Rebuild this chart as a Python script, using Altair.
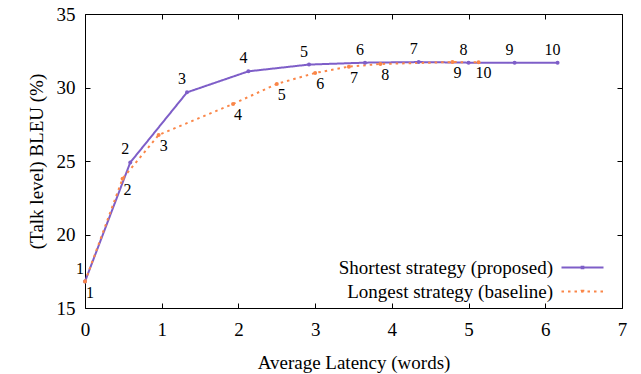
import altair as alt
import pandas as pd

# ---- data ----
S_NAME = "Shortest strategy (proposed)"
L_NAME = "Longest strategy (baseline)"
labels = [1, 2, 3, 4, 5, 6, 7, 8, 9, 10]
shortest_x = [0.0, 0.59, 1.33, 2.13, 2.92, 3.65, 4.35, 5.00, 5.60, 6.16]
shortest_y = [16.8, 24.9, 29.67, 31.1, 31.56, 31.69, 31.73, 31.69, 31.68, 31.68]
longest_x = [0.0, 0.49, 0.96, 1.93, 2.50, 3.00, 3.44, 3.85, 4.79, 5.13]
longest_y = [16.8, 23.8, 26.77, 28.88, 30.24, 30.99, 31.42, 31.60, 31.73, 31.71]
x_ticks = [0, 1, 2, 3, 4, 5, 6, 7]
y_ticks = [15, 20, 25, 30, 35]

rows = []
for n, xv, yv in zip(labels, shortest_x, shortest_y):
    rows.append({"series": S_NAME, "x": xv, "y": yv, "n": str(n), "order": 0})
for n, xv, yv in zip(labels, longest_x, longest_y):
    rows.append({"series": L_NAME, "x": xv, "y": yv, "n": str(n), "order": 1})
df = pd.DataFrame(rows)

FONT = "Liberation Serif"
FS = 19
PURPLE = "#7e5ec8"
ORANGE = "#fa8648"
W, H = 537, 294

xscale = alt.Scale(domain=[0, 7], nice=False, zero=False)
yscale = alt.Scale(domain=[15, 35], nice=False, zero=False)
domain = [S_NAME, L_NAME]

legend = alt.Legend(
    title=None, orient="none", legendX=488, legendY=244,
    symbolType="M-3,0H3M-0.12,-0.12H0.12V0.12H-0.12Z", symbolSize=196, symbolStrokeWidth=2,
    labelFont=FONT, labelFontSize=FS, labelColor="black",
    labelAlign="right", labelOffset={"expr": "-39"}, labelLimit=0, rowPadding=4,
)

xenc = alt.X("x:Q", scale=xscale, axis=alt.Axis(
    values=x_ticks, format="d", title="Average Latency (words)", grid=True,
    gridDash=[5, H - 10, 5], gridColor="black", gridOpacity=1, gridWidth=1,
    ticks=False, domain=False, labelPadding=12, labelFlush=False,
    titlePadding=14))
yenc = alt.Y("y:Q", scale=yscale, axis=alt.Axis(
    values=y_ticks, format="d", title="(Talk level) BLEU (%)", grid=True,
    gridDash=[5, W - 10, 5], gridColor="black", gridOpacity=1, gridWidth=1,
    ticks=False, domain=False, labelPadding=10, labelFlush=False,
    titlePadding=10))

color = alt.Color("series:N", scale=alt.Scale(domain=domain, range=[PURPLE, ORANGE]),
                  sort=domain, legend=legend)
dash = alt.StrokeDash("series:N", scale=alt.Scale(domain=domain, range=[[1, 0], [2.5, 4]]),
                      sort=domain, legend=legend)

lines = alt.Chart(df).mark_line(strokeWidth=2).encode(
    x=xenc, y=yenc, color=color, strokeDash=dash, order="order:Q")

points = alt.Chart(df).mark_point(filled=True, size=16, opacity=1).encode(
    x="x:Q", y="y:Q",
    color=alt.Color("series:N", scale=alt.Scale(domain=domain, range=[PURPLE, ORANGE]),
                    legend=None))

text_s = alt.Chart(df).transform_filter(alt.datum.series == S_NAME).mark_text(
    dx=-5, dy=-13, font=FONT, fontSize=16, color="black", baseline="middle", align="center"
).encode(x="x:Q", y="y:Q", text="n:N")

text_l = alt.Chart(df).transform_filter(alt.datum.series == L_NAME).mark_text(
    dx=5, dy=11, font=FONT, fontSize=16, color="black", baseline="middle", align="center"
).encode(x="x:Q", y="y:Q", text="n:N")

chart = alt.layer(lines, points, text_s, text_l).properties(
    width=W, height=H,
    background="white",
    autosize=alt.AutoSizeParams(type="none"),
    padding={"left": 85, "top": 14, "right": 19, "bottom": 66},
).configure_view(stroke="black", strokeWidth=1).configure_axis(
    labelFont=FONT, labelFontSize=FS, labelColor="black",
    titleFont=FONT, titleFontSize=FS, titleFontWeight="normal", titleColor="black",
)

chart.save("out.html", embed_options={"renderer": "svg", "actions": False})
